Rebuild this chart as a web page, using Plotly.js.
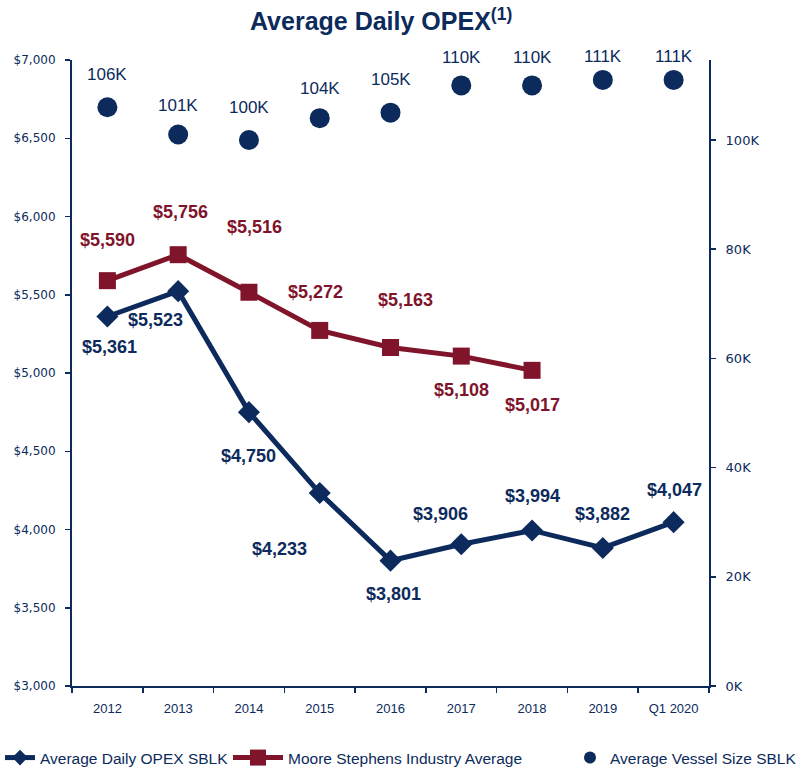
<!DOCTYPE html>
<html>
<head>
<meta charset="utf-8">
<script src="https://cdn.plot.ly/plotly-3.0.1.min.js"></script>
<style>html,body{margin:0;padding:0;background:#fff;}#chart{width:804px;height:775px;}</style>
</head>
<body>
<div id="chart"></div>
<script>
const categories = ['2012','2013','2014','2015','2016','2017','2018','2019','Q1 2020'];
const sblkOpex = [5361, 5523, 4750, 4233, 3801, 3906, 3994, 3882, 4047];
const mooreCategories = ['2012','2013','2014','2015','2016','2017','2018'];
const mooreOpex = [5590, 5756, 5516, 5272, 5163, 5108, 5017];
const vesselSizeK = [106, 101, 100, 104, 105, 110, 110, 111, 111];
const rightTickVals = [0, 20, 40, 60, 80, 100];
const rightTickText = ['0K', '20K', '40K', '60K', '80K', '100K'];

const NAVY = '#0c2b5c';
const RED = '#80142b';

// label offsets (px) for readability
const sblkShift = [[2,30],[-23,29],[0,44],[-40,56],[3,33],[-21,-30],[0,-34],[0,-34],[1,-32]];
const mooreShift = [[0,-41],[2,-43],[6,-65],[-4,-38],[15,-47],[0,34],[0,35]];
const vesselShift = [-33,-29,-32,-30,-33,-28,-28,-23,-23];

const fmt = v => '$' + v.toLocaleString('en-US');
const catIndex = c => categories.indexOf(c);

const traces = [
  {
    x: categories, y: sblkOpex, type: 'scatter', mode: 'lines+markers',
    name: 'Average Daily OPEX SBLK', legend: 'legend',
    line: {color: NAVY, width: 5},
    marker: {symbol: 'diamond', size: 17, color: NAVY},
    hoverinfo: 'skip'
  },
  {
    x: mooreCategories, y: mooreOpex, type: 'scatter', mode: 'lines+markers',
    name: 'Moore Stephens Industry Average', legend: 'legend2',
    line: {color: RED, width: 5},
    marker: {symbol: 'square', size: 17, color: RED},
    hoverinfo: 'skip'
  },
  {
    x: categories, y: vesselSizeK, type: 'scatter', mode: 'markers',
    name: 'Average Vessel Size SBLK', yaxis: 'y2', legend: 'legend3',
    marker: {symbol: 'circle', size: 20, color: NAVY},
    hoverinfo: 'skip'
  }
];

const annotations = [];
sblkOpex.forEach((v, i) => annotations.push({
  x: catIndex(categories[i]), y: v, xref: 'x', yref: 'y', text: fmt(v), showarrow: false,
  xshift: sblkShift[i][0], yshift: -sblkShift[i][1],
  font: {family: 'Liberation Sans, Arial, sans-serif', size: 18, color: NAVY, weight: 'bold'}
}));
mooreOpex.forEach((v, i) => annotations.push({
  x: catIndex(mooreCategories[i]), y: v, xref: 'x', yref: 'y', text: fmt(v), showarrow: false,
  xshift: mooreShift[i][0], yshift: -mooreShift[i][1],
  font: {family: 'Liberation Sans, Arial, sans-serif', size: 18, color: RED, weight: 'bold'}
}));
vesselSizeK.forEach((v, i) => annotations.push({
  x: catIndex(categories[i]), y: v, xref: 'x', yref: 'y2', text: v + 'K', showarrow: false,
  yshift: -vesselShift[i],
  font: {family: 'Liberation Sans, Arial, sans-serif', size: 17, color: NAVY}
}));

const legendBase = {
  orientation: 'h', xref: 'container', yref: 'container',
  xanchor: 'left', y: -0.018, yanchor: 'bottom',
  font: {family: 'Liberation Sans, Arial, sans-serif', size: 15.5, color: NAVY},
  bgcolor: 'rgba(0,0,0,0)', borderwidth: 0
};

const layout = {
  width: 804, height: 775,
  margin: {l: 72, r: 95, t: 60, b: 89, pad: 0},
  paper_bgcolor: '#fff', plot_bgcolor: '#fff',
  showlegend: true,
  title: {
    text: '<b>Average Daily OPEX<sup>(1)</sup></b>',
    x: 0.474, xanchor: 'center', y: 0.972, yanchor: 'middle',
    font: {family: 'Liberation Sans, Arial, sans-serif', size: 25, color: NAVY}
  },
  xaxis: {
    type: 'category', categoryarray: categories, categoryorder: 'array',
    range: [-0.5, 8.5],
    showline: true, linecolor: NAVY, linewidth: 2,
    ticks: 'outside', tickson: 'boundaries', ticklen: 5, tickcolor: NAVY, tickwidth: 1.5,
    showgrid: false, zeroline: false,
    tickfont: {family: 'Liberation Sans, Arial, sans-serif', size: 13, color: NAVY},
    ticklabelstandoff: 9
  },
  yaxis: {
    range: [3000, 7000], dtick: 500, tick0: 3000,
    tickprefix: '$', tickformat: ',',
    showline: true, linecolor: NAVY, linewidth: 2,
    ticks: 'outside', ticklen: 5, tickcolor: NAVY, tickwidth: 1.5,
    showgrid: false, zeroline: false,
    tickfont: {family: 'DejaVu Sans, Verdana, sans-serif', size: 12, color: NAVY},
    ticklabelstandoff: 7
  },
  yaxis2: {
    overlaying: 'y', side: 'right', range: [0, 114.65],
    tickmode: 'array', tickvals: rightTickVals, ticktext: rightTickText,
    showline: true, linecolor: NAVY, linewidth: 2,
    ticks: 'outside', ticklen: 5, tickcolor: NAVY, tickwidth: 1.5,
    showgrid: false, zeroline: false,
    tickfont: {family: 'DejaVu Sans, Verdana, sans-serif', size: 13, color: NAVY},
    ticklabelstandoff: 7
  },
  legend: Object.assign({}, legendBase, {x: 0, itemsizing: 'constant'}),
  legend2: Object.assign({}, legendBase, {x: 228 / 804, itemwidth: 50}),
  legend3: Object.assign({}, legendBase, {x: 570 / 804, itemsizing: 'constant'}),
  annotations: annotations
};

Plotly.newPlot('chart', traces, layout, {staticPlot: true, displayModeBar: false});
</script>
</body>
</html>
